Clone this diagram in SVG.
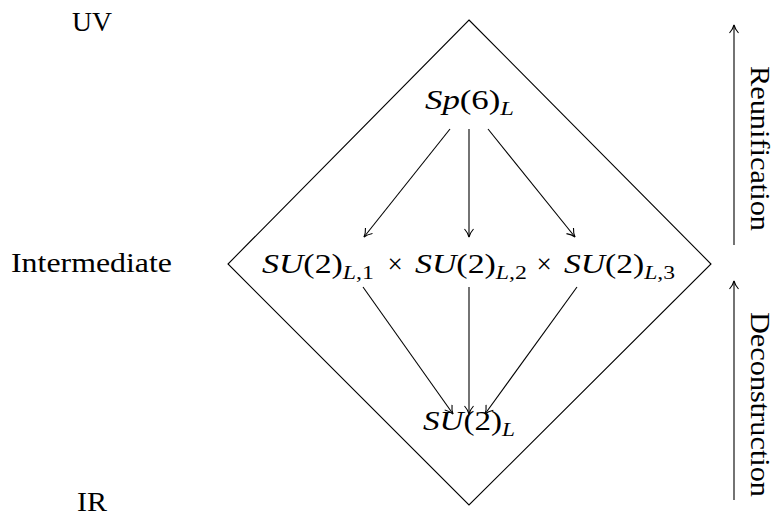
<svg xmlns="http://www.w3.org/2000/svg" width="779" height="516" viewBox="0 0 779 516">
<style>
text{font-family:"Liberation Serif","DejaVu Serif",serif;font-size:27px;fill:#000}
.i{font-style:italic}
.s{font-size:19px}
.c line{stroke:#000;stroke-width:1.1;fill:none}
.h{stroke:#000;stroke-width:1.1;fill:none}
</style>
<defs>
<marker id="ah" markerWidth="12" markerHeight="12" refX="9" refY="5" orient="auto" markerUnits="userSpaceOnUse">
<path d="M1,0.5 Q5,4 9,5 Q5,6 1,9.5" class="h"/>
</marker>
</defs>
<rect width="779" height="516" fill="#fff"/>
<g id="diamond"><path d="M469,20 L711,264 L469,505 L228,264 Z" class="h"/></g>
<g id="uv"><text x="72" y="31" textLength="40" lengthAdjust="spacingAndGlyphs">UV</text></g>
<g id="intermediate"><text x="11" y="272" textLength="161" lengthAdjust="spacingAndGlyphs">Intermediate</text></g>
<g id="ir"><text x="77" y="511" textLength="30" lengthAdjust="spacingAndGlyphs">IR</text></g>
<g id="sp6"><text x="425" y="109" textLength="89" lengthAdjust="spacingAndGlyphs"><tspan class="i">Sp</tspan>(6)<tspan class="i s" dy="6">L</tspan></text></g>
<g id="su2x3">
<text x="262" y="273" textLength="112" lengthAdjust="spacingAndGlyphs"><tspan class="i">SU</tspan>(2)<tspan class="i s" dy="6">L</tspan><tspan class="s">,1</tspan></text>
<text x="395" y="273" text-anchor="middle">×</text>
<text x="415" y="273" textLength="112" lengthAdjust="spacingAndGlyphs"><tspan class="i">SU</tspan>(2)<tspan class="i s" dy="6">L</tspan><tspan class="s">,2</tspan></text>
<text x="544" y="273" text-anchor="middle">×</text>
<text x="564" y="273" textLength="111" lengthAdjust="spacingAndGlyphs"><tspan class="i">SU</tspan>(2)<tspan class="i s" dy="6">L</tspan><tspan class="s">,3</tspan></text>
</g>
<g id="su2"><text x="423" y="430" textLength="92" lengthAdjust="spacingAndGlyphs"><tspan class="i">SU</tspan>(2)<tspan class="i s" dy="6">L</tspan></text></g>
<g id="reunification"><text transform="translate(751,66) rotate(90)" textLength="165" lengthAdjust="spacingAndGlyphs">Reunification</text></g>
<g id="deconstruction"><text transform="translate(751,312) rotate(90)" textLength="185" lengthAdjust="spacingAndGlyphs">Deconstruction</text></g>
<g id="connectors" class="c">
<line x1="450" y1="129" x2="364" y2="237" marker-end="url(#ah)"/>
<line x1="469" y1="129" x2="469" y2="237" marker-end="url(#ah)"/>
<line x1="488" y1="129" x2="575" y2="237" marker-end="url(#ah)"/>
<line x1="363" y1="287" x2="453" y2="414" marker-end="url(#ah)"/>
<line x1="469" y1="287" x2="469" y2="414" marker-end="url(#ah)"/>
<line x1="577" y1="287" x2="485" y2="414" marker-end="url(#ah)"/>
<line x1="734" y1="245" x2="734" y2="25" marker-end="url(#ah)"/>
<line x1="734" y1="500" x2="734" y2="281" marker-end="url(#ah)"/>
</g>
</svg>
